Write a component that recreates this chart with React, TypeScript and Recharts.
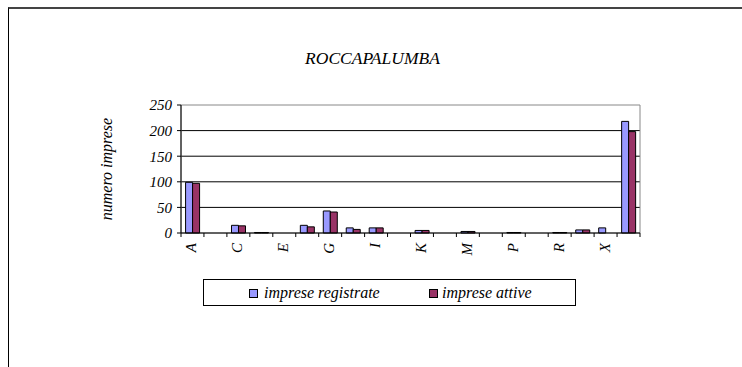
import React from 'react';
import { BarChart, Bar, XAxis, YAxis, CartesianGrid, Legend, ReferenceArea } from 'recharts';

const categories = ['A', 'B', 'C', 'D', 'E', 'F', 'G', 'H', 'I', 'J', 'K', 'L', 'M', 'N', 'P', 'Q', 'R', 'S', 'X', 'Totale'];
const registrate = [99, 0, 15, 1, 0, 15, 43, 10, 10, 0, 5, 0, 3, 0, 1, 0, 1, 6, 10, 218];
const attive = [97, 0, 14, 1, 0, 12, 41, 7, 10, 0, 5, 0, 3, 0, 1, 0, 1, 6, 0, 198];
const yTicks = [0, 50, 100, 150, 200, 250];
const seriesNames = ['imprese registrate', 'imprese attive'];
const seriesColors = ['#9999FF', '#993366'];
const title = 'ROCCAPALUMBA';
const yTitle = 'numero imprese';

const data = categories.map((c, i) => ({ cat: c, registrate: registrate[i], attive: attive[i] }));

const W = 742;
const H = 367;
const margin = { top: 105, right: 102, bottom: 104, left: 0 };
const Y_AXIS_W = 181;
const X_AXIS_H = 30;
const plotW = W - margin.right - Y_AXIS_W;
const band = plotW / categories.length;
const FONT = '"Liberation Serif", "Times New Roman", serif';

const XTick = (props: any) => {
  const { x, y, payload, index } = props;
  const i = typeof index === 'number' ? index : payload.index;
  const left = x - band / 2;
  const right = x + band / 2;
  return (
    <g>
      <line x1={left} y1={y} x2={left} y2={y + 4} stroke="#000" strokeWidth={1} />
      {i === categories.length - 1 && (
        <line x1={right} y1={y} x2={right} y2={y + 4} stroke="#000" strokeWidth={1} />
      )}
      {i % 2 === 0 && (
        <text
          x={x + 4}
          y={y + 10}
          transform={`rotate(-90 ${x + 4} ${y + 10})`}
          textAnchor="end"
          fontFamily={FONT}
          fontStyle="italic"
          fontSize={15}
          fill="#000"
        >
          {payload.value}
        </text>
      )}
    </g>
  );
};

const YTitle = (props: any) => {
  const vb = props.viewBox || {};
  const cy = (vb.y ?? margin.top) + (vb.height ?? 128) / 2;
  const cx = 112;
  return (
    <text
      x={cx}
      y={cy}
      transform={`rotate(-90 ${cx} ${cy})`}
      textAnchor="middle"
      fontFamily={FONT}
      fontStyle="italic"
      fontSize={16}
      fill="#000"
    >
      {yTitle}
    </text>
  );
};

const LegendBox = () => (
  <div
    style={{
      position: 'relative',
      width: 373,
      height: 27,
      boxSizing: 'border-box',
      border: '1px solid #000',
      background: '#fff',
      fontFamily: FONT,
      fontStyle: 'italic',
      fontSize: 16,
      color: '#000',
    }}
  >
    {seriesNames.map((n, i) => (
      <React.Fragment key={n}>
        <span
          style={{
            position: 'absolute',
            left: i === 0 ? 45 : 225,
            top: 9,
            width: 7,
            height: 7,
            background: seriesColors[i],
            border: '1px solid #000',
          }}
        />
        <span
          style={{
            position: 'absolute',
            left: i === 0 ? 60 : 238,
            top: 4,
            lineHeight: '17px',
            whiteSpace: 'nowrap',
          }}
        >
          {n}
        </span>
      </React.Fragment>
    ))}
  </div>
);

export default function App() {
  return (
    <div style={{ position: 'absolute', left: 0, top: 0, width: W, height: H, overflow: 'hidden', background: '#fff' }}>
      <div
        style={{
          position: 'absolute',
          left: 8,
          top: 7,
          width: 800,
          height: 420,
          borderTop: '2px solid #444',
          borderLeft: '1px solid #000',
        }}
      />
      <div
        style={{
          position: 'absolute',
          left: 0,
          top: 50,
          width: 745,
          textAlign: 'center',
          fontFamily: FONT,
          fontStyle: 'italic',
          fontSize: 17.5,
          lineHeight: '17px',
          color: '#000',
        }}
      >
        {title}
      </div>
      <div style={{ position: 'absolute', left: 0, top: 0 }}>
        <BarChart
          width={W}
          height={H}
          data={data}
          margin={margin}
          barCategoryGap="20%"
          barGap={0}
        >
          <CartesianGrid vertical={false} stroke="#000" strokeWidth={1} horizontalValues={[50, 100, 150, 200]} />
          <ReferenceArea y1={0} y2={250} fill="none" stroke="#888" strokeWidth={1} ifOverflow="visible" />
          <XAxis
            dataKey="cat"
            height={X_AXIS_H}
            interval={0}
            tickLine={false}
            tickSize={0}
            tickMargin={0}
            axisLine={{ stroke: '#000' }}
            tick={<XTick />}
          />
          <YAxis
            width={Y_AXIS_W}
            domain={[0, 250]}
            ticks={yTicks}
            tickSize={4}
            tickMargin={5}
            axisLine={{ stroke: '#000' }}
            tickLine={{ stroke: '#000' }}
            tick={{ fontFamily: FONT, fontStyle: 'italic', fontSize: 15, fill: '#000' }}
            label={<YTitle />}
          />
          <Legend
            layout="horizontal"
            verticalAlign="middle"
            align="center"
            wrapperStyle={{ left: 203, top: 279, width: 373, height: 27 }}
            content={() => <LegendBox />}
          />
          <Bar dataKey="registrate" name={seriesNames[0]} fill={seriesColors[0]} stroke="#000" strokeWidth={1} isAnimationActive={false} />
          <Bar dataKey="attive" name={seriesNames[1]} fill={seriesColors[1]} stroke="#000" strokeWidth={1} isAnimationActive={false} />
        </BarChart>
      </div>
    </div>
  );
}
